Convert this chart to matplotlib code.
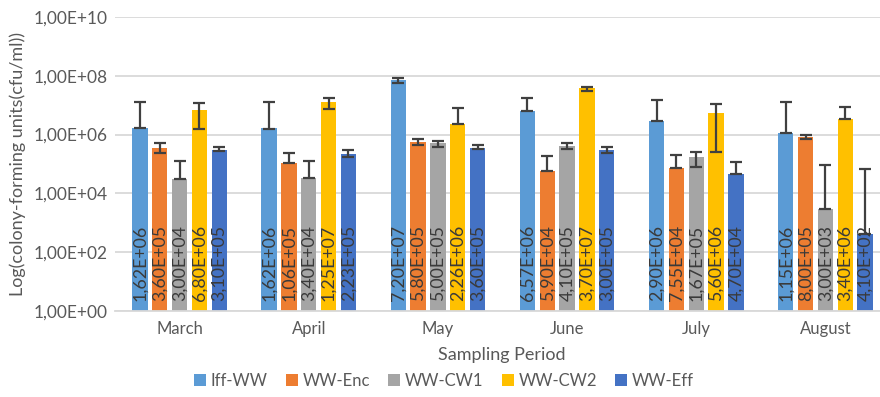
import numpy as np
import matplotlib
matplotlib.use("Agg")
import matplotlib.pyplot as plt
from matplotlib.ticker import FixedLocator, FuncFormatter, NullLocator

plt.rcParams['font.family'] = ['Lato', 'DejaVu Sans']

months = ["March", "April", "May", "June", "July", "August"]
series = ["Iff-WW", "WW-Enc", "WW-CW1", "WW-CW2", "WW-Eff"]
colors = ["#5B9BD5", "#ED7D31", "#A5A5A5", "#FFC000", "#4472C4"]

iff_ww = [1.62e6, 1.62e6, 7.20e7, 6.57e6, 2.90e6, 1.15e6]
ww_enc = [3.60e5, 1.06e5, 5.80e5, 5.90e4, 7.55e4, 8.00e5]
ww_cw1 = [3.00e4, 3.40e4, 5.00e5, 4.10e5, 1.67e5, 3.00e3]
ww_cw2 = [6.80e6, 1.25e7, 2.26e6, 3.70e7, 5.60e6, 3.40e6]
ww_eff = [3.10e5, 2.23e5, 3.60e5, 3.00e5, 4.70e4, 4.10e2]

# error bar ends (upper / lower)
iff_ww_hi = [1.3e7, 1.3e7, 8.1e7, 1.8e7, 1.5e7, 1.3e7]
iff_ww_lo = [1.62e6, 1.55e6, 5.9e7, 6.57e6, 2.9e6, 1.15e6]
ww_enc_hi = [5.0e5, 2.3e5, 7.2e5, 1.8e5, 2.0e5, 9.5e5]
ww_enc_lo = [2.4e5, 1.05e5, 4.5e5, 5.9e4, 7.55e4, 6.9e5]
ww_cw1_hi = [1.3e5, 1.3e5, 6.2e5, 5.2e5, 2.6e5, 9.1e4]
ww_cw1_lo = [3.0e4, 3.4e4, 3.9e5, 3.2e5, 8.1e4, 3.0e3]
ww_cw2_hi = [1.2e7, 1.8e7, 7.8e6, 4.3e7, 1.1e7, 8.5e6]
ww_cw2_lo = [1.5e6, 7.2e6, 2.26e6, 3.1e7, 2.6e5, 3.4e6]
ww_eff_hi = [3.9e5, 3.0e5, 4.6e5, 3.7e5, 1.15e5, 6.6e4]
ww_eff_lo = [2.8e5, 1.75e5, 3.2e5, 2.4e5, 4.7e4, 4.1e2]

values = [iff_ww, ww_enc, ww_cw1, ww_cw2, ww_eff]
highs = [iff_ww_hi, ww_enc_hi, ww_cw1_hi, ww_cw2_hi, ww_eff_hi]
lows = [iff_ww_lo, ww_enc_lo, ww_cw1_lo, ww_cw2_lo, ww_eff_lo]

ytick_vals = [1e0, 1e2, 1e4, 1e6, 1e8, 1e10]

fig = plt.figure(figsize=(8.8, 3.97), dpi=100)
ax = fig.add_axes([115/880, 1-311/397, 775/880, 294/397])

x = np.arange(len(months))
step = 0.1536
width = 0.118
txtc = "#3a3a3a"
for i, (name, vals, hi, lo, c) in enumerate(zip(series, values, highs, lows, colors)):
    xs = x + (i - 2) * step
    vals = np.array(vals)
    ax.bar(xs, vals, width=width, color=c, label=name, zorder=2)
    yerr = [np.clip(vals - np.array(lo), 0, None), np.clip(np.array(hi) - vals, 0, None)]
    ax.errorbar(xs, vals, yerr=yerr, fmt='none', ecolor='#404040',
                elinewidth=1.6, capsize=4, capthick=1.6, zorder=3)
    for xi, v in zip(xs, vals):
        lab = f"{v:.2E}".replace('.', ',')
        ax.annotate(lab, xy=(xi, 1), xytext=(0, 7.5), textcoords='offset points',
                    rotation=90, ha='center', va='bottom', fontsize=12.8,
                    color=txtc, zorder=4)

ax.set_yscale('log')
ax.set_ylim(1, 1e10)
ax.set_xlim(-0.5, 5.5)
ax.yaxis.set_major_locator(FixedLocator(ytick_vals))
ax.yaxis.set_minor_locator(NullLocator())
ax.yaxis.set_major_formatter(FuncFormatter(lambda v, p: f"{v:.2E}".replace('.', ',')))
ax.set_xticks(x)
ax.set_xticklabels(months)
ax.tick_params(axis='both', length=0, labelsize=12.5, colors='#595959')
ax.tick_params(axis='x', pad=7, labelsize=12)
ax.tick_params(axis='y', pad=5)
ax.grid(axis='y', color='#D9D9D9', linewidth=1.3, zorder=0)
ax.set_axisbelow(True)
for s in ['top', 'right', 'left']:
    ax.spines[s].set_visible(False)
ax.spines['bottom'].set_color('#D9D9D9')
ax.spines['bottom'].set_linewidth(1.3)

fig.text(502/880, 1-355/397, "Sampling Period", ha='center', va='center',
         fontsize=13, color='#595959')
fig.text(18/880, 1-164/397, "Log(colony-forming units(cfu/ml))", rotation=90,
         ha='center', va='center', fontsize=13, color='#595959')

handles, labels = ax.get_legend_handles_labels()
leg = fig.legend(handles, labels, loc='center', bbox_to_anchor=(444/880, 1-381/397),
                 ncol=5, frameon=False, fontsize=12, handlelength=0.7,
                 handleheight=0.7, handletextpad=0.3, columnspacing=1.1,
                 labelcolor='#595959')

fig.savefig("out.png", dpi=100)
